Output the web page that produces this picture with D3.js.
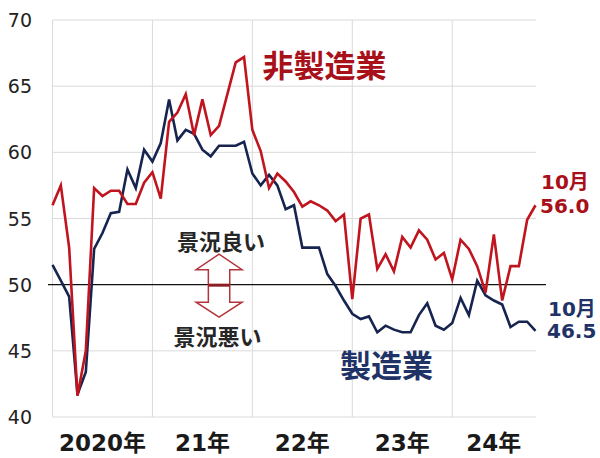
<!DOCTYPE html>
<html><head><meta charset="utf-8">
<script src="https://cdn.jsdelivr.net/npm/d3@7"></script>
<style>html,body{margin:0;padding:0;background:#fff;} svg{display:block}</style>
</head><body><svg id="c" width="600" height="458"></svg>
<script>
// ---- data (monthly) ----
const manufacturing = [
  51.5, 50.3, 49.1, 41.7, 43.4, 52.7, 53.9, 55.4, 55.5, 58.7, 57.3, 60.2,
  59.3, 60.7, 64.0, 60.9, 61.7, 61.4, 60.2, 59.7, 60.5, 60.5, 60.5, 60.8,
  58.4, 57.5, 58.3, 57.5, 55.7, 56.0, 52.8, 52.8, 52.8, 50.8, 49.9, 48.8,
  47.8, 47.4, 47.6, 46.4, 46.9, 46.6, 46.4, 46.4, 47.7, 48.6, 46.9, 46.6,
  47.1, 49.0, 47.7, 50.3, 49.2, 48.8, 48.5, 46.8, 47.2, 47.2, 46.5
];
const nonManufacturing = [
  56.0, 57.5, 52.8, 41.6, 45.0, 57.3, 56.7, 57.1, 57.1, 56.1, 56.1, 57.7,
  58.5, 56.5, 62.3, 63.0, 64.4, 61.3, 64.0, 61.3, 62.0, 64.4, 66.8, 67.2,
  61.7, 60.1, 57.3, 58.4, 57.8, 57.0, 55.9, 56.3, 56.0, 55.6, 54.8, 55.3,
  48.9, 55.0, 55.3, 51.2, 52.3, 51.0, 53.6, 52.8, 54.1, 53.4, 51.9, 52.4,
  50.4, 53.4, 52.7, 51.4, 49.4, 53.8, 48.8, 51.4, 51.4, 54.9, 56.0
];
const yearLabels = ["2020年", "21年", "22年", "23年", "24年"];
const yearStarts = [0, 12, 24, 36, 48];
const yTicks = [40, 45, 50, 55, 60, 65, 70];
const lastLabel = "10月";

// ---- styling ----
const RED = "#c0141e", RED_TXT = "#a8101a";
const NAVY = "#16244f", NAVY_TXT = "#1f3366";
const GRID = "#dadada";
const NUMF = "'DejaVu Sans', 'Noto Sans CJK JP', sans-serif";
const CJKF = "'Noto Sans CJK JP', 'DejaVu Sans', sans-serif";

const svg = d3.select("#c");
const n = manufacturing.length;
const x = d3.scaleLinear().domain([0, n - 1]).range([52.5, 535.5]);
const y = d3.scaleLinear().domain([40, 70]).range([417, 20]);
const plotL = 52.5, plotR = 536;

// horizontal grid
svg.append("g").selectAll("line").data(yTicks.filter(t => t !== 50)).join("line")
  .attr("x1", plotL).attr("x2", plotR)
  .attr("y1", d => y(d)).attr("y2", d => y(d))
  .attr("stroke", GRID).attr("stroke-width", 1);
// vertical grid (year boundaries + left edge)
svg.append("g").selectAll("line").data(yearStarts).join("line")
  .attr("x1", d => x(d)).attr("x2", d => x(d))
  .attr("y1", y(70)).attr("y2", y(40))
  .attr("stroke", GRID).attr("stroke-width", 1);

// y tick labels
svg.append("g").selectAll("text").data(yTicks).join("text")
  .attr("x", 32).attr("y", d => y(d))
  .attr("text-anchor", "end").attr("dominant-baseline", "central")
  .attr("font-family", NUMF).attr("font-size", 19).attr("fill", "#222")
  .text(d => d);

// year labels
svg.append("g").selectAll("text").data(yearLabels).join("text")
  .attr("x", (d, i) => {
    const s = yearStarts[i];
    const e = i < yearStarts.length - 1 ? yearStarts[i + 1] : n - 1;
    return (x(s) + x(e)) / 2;
  })
  .attr("y", 451)
  .attr("text-anchor", "middle")
  .attr("font-family", NUMF).attr("font-weight", "bold").attr("font-size", 23).attr("fill", "#1a1a1a")
  .text(d => d);

// 50 line
svg.append("line").attr("x1", 48).attr("x2", 546).attr("y1", y(50)).attr("y2", y(50))
  .attr("stroke", "#111").attr("stroke-width", 1.3);

// arrow annotation
const ax = x(20), a0 = y(50);
const hw = 23, sw = 10.7;
const arrowPts = [
  [ax, a0 - 30.5], [ax + hw, a0 - 15], [ax + sw, a0 - 15], [ax + sw, a0 + 17.5],
  [ax + hw, a0 + 17.5], [ax, a0 + 32.5], [ax - hw, a0 + 17.5], [ax - sw, a0 + 17.5],
  [ax - sw, a0 - 15], [ax - hw, a0 - 15]
];
svg.append("path").attr("d", d3.line()(arrowPts) + "Z")
  .attr("fill", "#fff").attr("stroke", "#b3343c").attr("stroke-width", 1.5)
  .attr("stroke-linejoin", "miter");
svg.append("line").attr("x1", ax - sw).attr("x2", ax + sw).attr("y1", a0 + 0.5).attr("y2", a0 + 0.5)
  .attr("stroke", "#8a1c22").attr("stroke-width", 3);
svg.append("text").attr("x", 221).attr("y", 240).attr("text-anchor", "middle").attr("dominant-baseline", "central")
  .attr("font-family", CJKF).attr("font-weight", "bold").attr("font-size", 22).attr("fill", "#262626").text("景況良い");
svg.append("text").attr("x", 217.5).attr("y", 335).attr("text-anchor", "middle").attr("dominant-baseline", "central")
  .attr("font-family", CJKF).attr("font-weight", "bold").attr("font-size", 22).attr("fill", "#262626").text("景況悪い");

// series lines
const line = d3.line().x((d, i) => x(i)).y(d => y(d));
svg.append("path").datum(manufacturing).attr("d", line)
  .attr("fill", "none").attr("stroke", NAVY).attr("stroke-width", 2.6).attr("stroke-linejoin", "miter");
svg.append("path").datum(nonManufacturing).attr("d", line)
  .attr("fill", "none").attr("stroke", RED).attr("stroke-width", 2.6).attr("stroke-linejoin", "miter");

// series titles
svg.append("text").attr("x", 324.5).attr("y", 63.5).attr("text-anchor", "middle").attr("dominant-baseline", "central")
  .attr("font-family", CJKF).attr("font-weight", "bold").attr("font-size", 31).attr("fill", RED_TXT).text("非製造業");
svg.append("text").attr("x", 386.5).attr("y", 363).attr("text-anchor", "middle").attr("dominant-baseline", "central")
  .attr("font-family", CJKF).attr("font-weight", "bold").attr("font-size", 31).attr("fill", NAVY_TXT).text("製造業");

// last value labels
const lastRed = nonManufacturing[n - 1], lastBlue = manufacturing[n - 1];
const endLabels = [
  { t: lastLabel, x: 541, y: 182, c: RED_TXT },
  { t: lastRed.toFixed(1), x: 540, y: 206, c: RED_TXT },
  { t: lastLabel, x: 548, y: 309, c: NAVY_TXT },
  { t: lastBlue.toFixed(1), x: 547, y: 331, c: NAVY_TXT }
];
svg.append("g").selectAll("text").data(endLabels).join("text")
  .attr("x", d => d.x).attr("y", d => d.y).attr("dominant-baseline", "central")
  .attr("font-family", NUMF).attr("font-weight", "bold").attr("font-size", 20).attr("fill", d => d.c)
  .text(d => d.t);
</script>
</body></html>
